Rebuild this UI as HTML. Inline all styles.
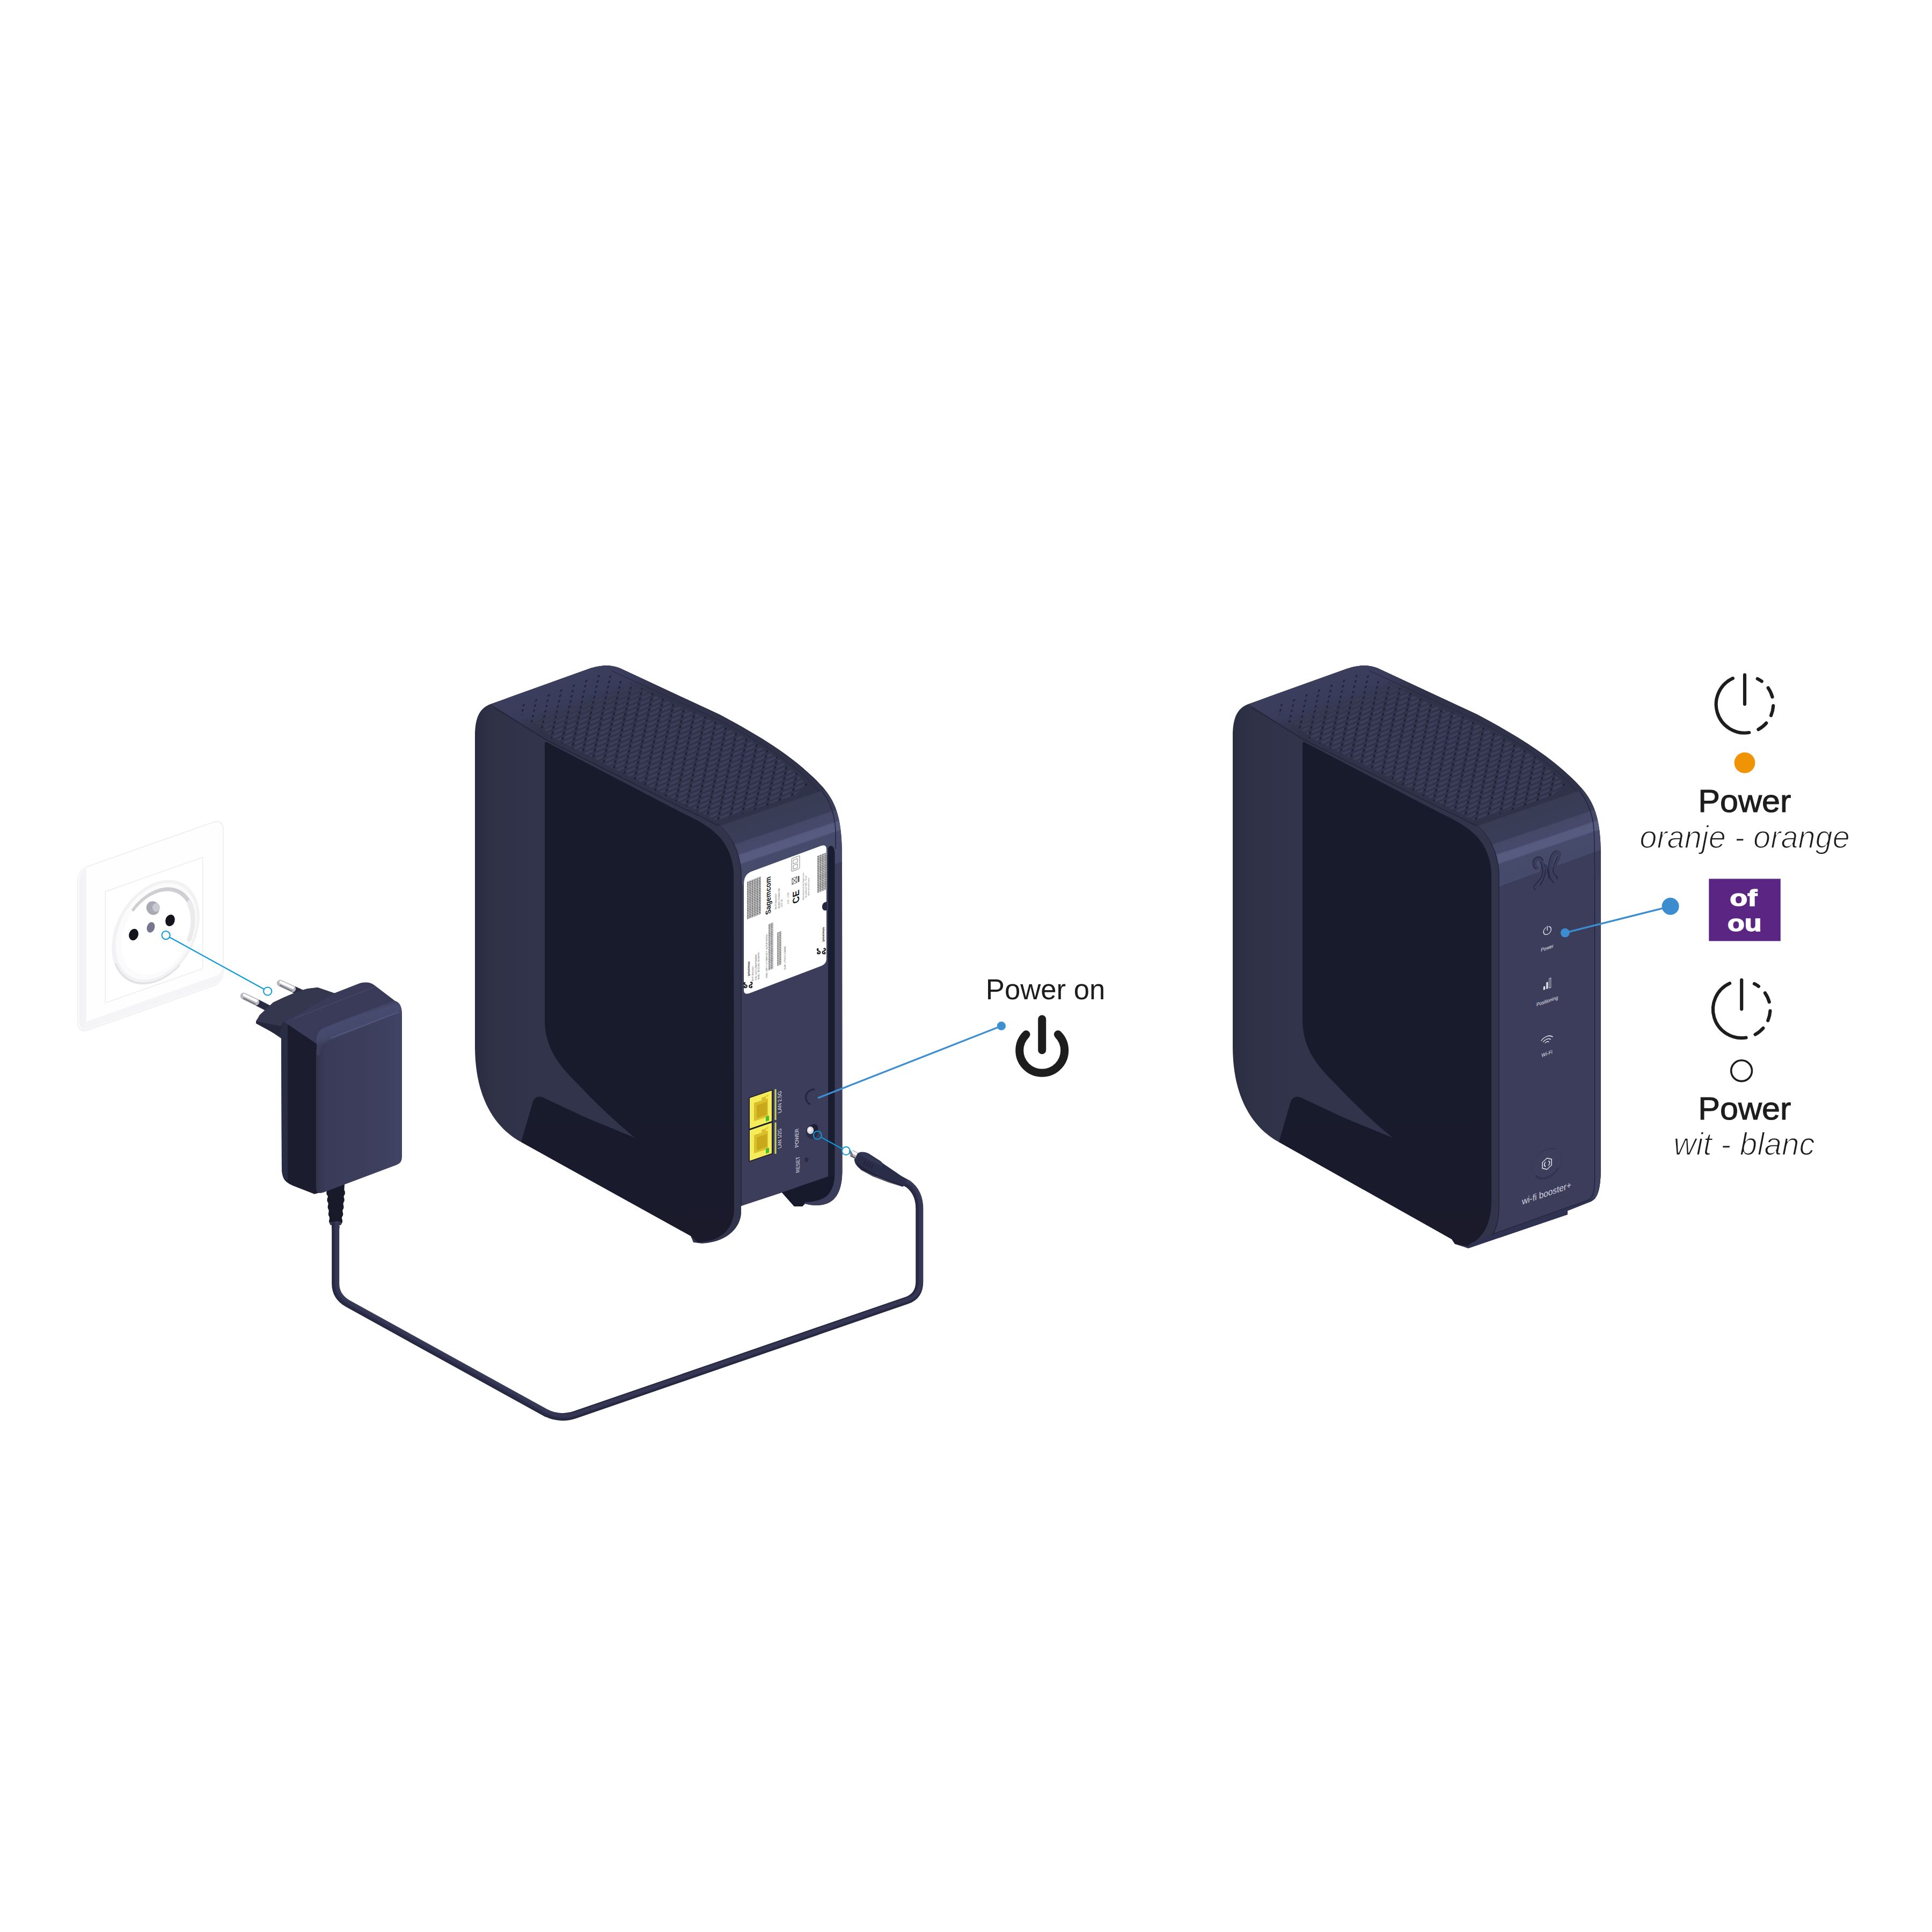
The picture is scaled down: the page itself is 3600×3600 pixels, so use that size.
<!DOCTYPE html>
<html lang="nl"><head><meta charset="utf-8"><title>Wi-Fi Booster+ - Power on</title>
<style>html,body{margin:0;padding:0;background:#fff}body{width:3600px;height:3600px;overflow:hidden}svg{display:block}</style>
</head><body>
<svg width="3600" height="3600" viewBox="0 0 3600 3600">
<rect width="3600" height="3600" fill="#ffffff"/>
<defs>
<pattern id="bump" width="100" height="100" patternUnits="userSpaceOnUse" patternTransform="matrix(0.233,-0.090,-0.0205,0.098,1000,1300)">
<rect width="100" height="100" fill="#2f3249"/>
<path d="M 14,20 L 88,20 L 88,62 C 70,82 40,84 14,78 Z" fill="#3a3e59"/>
</pattern>
<pattern id="dots" width="100" height="100" patternUnits="userSpaceOnUse" patternTransform="matrix(0.233,-0.090,-0.0205,0.098,1000,1300)">
<rect x="-6" y="32" width="13" height="36" rx="3" fill="#191b30"/>
<rect x="94" y="32" width="13" height="36" rx="3" fill="#191b30"/>
</pattern>
<linearGradient id="bands" gradientUnits="userSpaceOnUse" x1="1430" y1="1508" x2="1474.5" y2="1639">
<stop offset="0" stop-color="#363952"/>
<stop offset="0.02" stop-color="#393c55"/>
<stop offset="0.295" stop-color="#3a3d57"/>
<stop offset="0.315" stop-color="#454867"/>
<stop offset="0.445" stop-color="#464969"/>
<stop offset="0.465" stop-color="#555a7e"/>
<stop offset="0.57" stop-color="#565b80"/>
<stop offset="0.59" stop-color="#474b6b"/>
<stop offset="0.985" stop-color="#45496a"/>
<stop offset="1" stop-color="#3b3d5b"/>
</linearGradient>
<linearGradient id="topg" gradientUnits="userSpaceOnUse" x1="930" y1="1290" x2="1200" y2="1420">
<stop offset="0" stop-color="#3b3e5d"/>
<stop offset="0.45" stop-color="#33364f"/>
<stop offset="1" stop-color="#2f3249"/>
</linearGradient>
<linearGradient id="topfade" gradientUnits="userSpaceOnUse" x1="1020" y1="1275" x2="1049" y2="1358">
<stop offset="0" stop-color="#3b3e5d" stop-opacity="1"/>
<stop offset="0.5" stop-color="#383b59" stop-opacity="1"/>
<stop offset="0.75" stop-color="#35384f" stop-opacity="0.6"/>
<stop offset="1" stop-color="#33364f" stop-opacity="0"/>
</linearGradient>
<linearGradient id="sideg" gradientUnits="userSpaceOnUse" x1="885" y1="0" x2="1015" y2="0">
<stop offset="0" stop-color="#2b2e43"/>
<stop offset="0.25" stop-color="#2f3247"/>
<stop offset="1" stop-color="#31344b"/>
</linearGradient>
<linearGradient id="darkg" gradientUnits="userSpaceOnUse" x1="0" y1="1400" x2="0" y2="2300">
<stop offset="0" stop-color="#171b2b"/>
<stop offset="0.7" stop-color="#181b2c"/>
<stop offset="1" stop-color="#1a1a2b"/>
</linearGradient>
<linearGradient id="pin" gradientUnits="objectBoundingBox" x1="0.3" y1="0" x2="0.7" y2="1">
<stop offset="0" stop-color="#ffffff"/>
<stop offset="0.35" stop-color="#e8e8ec"/>
<stop offset="0.7" stop-color="#9a9aa2"/>
<stop offset="1" stop-color="#6d6d78"/>
</linearGradient>
<linearGradient id="adfront" gradientUnits="userSpaceOnUse" x1="590" y1="0" x2="750" y2="0">
<stop offset="0" stop-color="#33354f"/>
<stop offset="0.12" stop-color="#393b59"/>
<stop offset="0.6" stop-color="#3c3e5c"/>
<stop offset="1" stop-color="#404364"/>
</linearGradient>
<linearGradient id="adbevel" gradientUnits="userSpaceOnUse" x1="660" y1="1885" x2="672" y2="1925">
<stop offset="0" stop-color="#3b3d5b"/>
<stop offset="0.25" stop-color="#474b6f"/>
<stop offset="0.7" stop-color="#454a6d"/>
<stop offset="1" stop-color="#3c3e5c"/>
</linearGradient>
<clipPath id="sil1"><path d="M 885,1953 L 885,1372 C 885,1338 893,1320 914,1312 L 1098,1246 C 1115,1240 1137,1237 1155,1245 L 1340,1331 C 1400,1363 1465,1400 1515,1448 C 1550,1482 1568,1505 1569,1590 L 1569.5,2180 C 1569.5,2215 1560,2236 1540,2243 C 1530,2246.5 1515,2247.5 1500,2243 L 1495,2248 L 1480,2248 L 1472,2239 L 1457,2222 L 1381,2247 L 1381,2262 C 1378,2292 1350,2315 1308,2317 L 1292,2315 L 1287,2303 L 971,2128 C 925,2103 886,2050 885,1953 Z"/></clipPath>
<clipPath id="sil2"><path d="M 885,1953 L 885,1372 C 885,1338 893,1320 914,1312 L 1098,1246 C 1115,1240 1137,1237 1155,1245 L 1340,1331 C 1400,1363 1465,1400 1515,1448 C 1550,1482 1570,1505 1571,1590 L 1571,2170 C 1571,2214 1566,2233 1552,2239 L 1509,2256 L 1509,2263 L 1324,2326 L 1299,2318 L 1293,2309 L 971,2128 C 925,2103 886,2050 885,1953 Z"/></clipPath>
</defs>
<g id="socket">
<g transform="matrix(0.88,-0.31,0,1,145,1621)">
<rect x="0" y="0" width="308" height="305" rx="20" fill="#fefefe" stroke="#efeff2" stroke-width="2"/>
<path d="M 3,22 C 3,10 8,4 18,3 L 18,300 C 8,300 3,294 3,284 Z" fill="#f3f3f5"/>
<path d="M 20,288 L 290,288 C 300,288 305,284 306,276 L 306,285 C 305,297 298,303 288,303 L 20,303 C 12,303 8,300 6,296 Z" fill="#f5f5f7"/>
<rect x="58.3" y="58.4" width="206" height="207.5" fill="#ffffff" stroke="#ececef" stroke-width="1.6"/>
<circle cx="164.8" cy="167" r="93" fill="#f2f2f4"/>
<circle cx="166" cy="166" r="86" fill="#fbfbfc"/>
<path d="M 80,200 A 93 93 0 0 0 215,245" fill="none" stroke="#e2e2e6" stroke-width="3.5" stroke-linecap="round"/>
<circle cx="168" cy="168" r="76" fill="#ffffff"/>
<path d="M 118,110 A 76 76 0 0 1 236,134" fill="none" stroke="#cfcfd3" stroke-width="7" stroke-linecap="round"/>
<path d="M 236,134 A 76 76 0 0 1 236,202" fill="none" stroke="#ebebee" stroke-width="10" stroke-linecap="round"/>
</g>
<ellipse cx="249" cy="1741.5" rx="8.6" ry="11" transform="rotate(18 249 1741.5)" fill="#14141f"/>
<ellipse cx="317" cy="1715" rx="8.6" ry="11" transform="rotate(18 317 1715)" fill="#14141f"/>
<ellipse cx="281" cy="1728" rx="7.2" ry="10" transform="rotate(18 281 1728)" fill="#77758f"/>
<ellipse cx="285" cy="1692" rx="12" ry="13" transform="rotate(-30 285 1692)" fill="#a9a9b3"/>
<ellipse cx="291" cy="1691" rx="7" ry="8" fill="#c9c9d2"/>
</g>
<g id="adapter">
<line x1="547" y1="1843.5" x2="572" y2="1855" stroke="#2a2c44" stroke-width="12.5" stroke-linecap="butt"/>
<line x1="522" y1="1832" x2="545" y2="1842.5" stroke="#b9b9c0" stroke-width="12.5" stroke-linecap="round"/>
<line x1="522.919" y1="1830" x2="545.919" y2="1840.5" stroke="#ffffff" stroke-width="4.75" stroke-linecap="round"/>
<line x1="521.245" y1="1835.82" x2="544.245" y2="1847.32" stroke="#7b7b86" stroke-width="2.75" stroke-linecap="butt"/>
<path d="M 477,1903 L 484,1891 L 509,1868 C 540,1853 560,1845 575,1842 L 592,1840 L 624,1851 L 560,1900 L 530,1912 L 524,1935 Z" fill="#34364f"/>
<path d="M 477,1903 L 524,1912 L 523,1932 L 477,1907 Z" fill="#25273c"/>
<line x1="479" y1="1868" x2="508" y2="1883" stroke="#2a2c44" stroke-width="12.5" stroke-linecap="butt"/>
<line x1="454" y1="1856" x2="477" y2="1867" stroke="#b9b9c0" stroke-width="12.5" stroke-linecap="round"/>
<line x1="454.952" y1="1854.02" x2="477.952" y2="1865.02" stroke="#ffffff" stroke-width="4.75" stroke-linecap="round"/>
<line x1="453.183" y1="1859.79" x2="476.183" y2="1871.79" stroke="#7b7b86" stroke-width="2.75" stroke-linecap="butt"/>
<path d="M 486,1890 L 509,1868 C 540,1853 560,1845 575,1842 L 592,1840 L 624,1851 L 545,1893 L 524,1912 L 477,1903 Z" fill="#35374f"/>
<path d="M 609,2200 L 643,2190 L 640,2240 L 636,2280 L 615,2282 L 612,2250 Z" fill="#181a2a"/>
<rect x="608.35" y="2216" width="34.5" height="13" rx="5.5" fill="#181a2a"/>
<rect x="609.55" y="2229.2" width="32.1" height="13" rx="5.5" fill="#181a2a"/>
<rect x="610.75" y="2242.4" width="29.7" height="13" rx="5.5" fill="#181a2a"/>
<rect x="611.95" y="2255.6" width="27.3" height="13" rx="5.5" fill="#181a2a"/>
<rect x="613.15" y="2268.8" width="24.9" height="13" rx="5.5" fill="#181a2a"/>
<rect x="615" y="2277" width="21" height="6" rx="2" fill="#383b57"/>
<rect x="618" y="2282" width="14.5" height="9" rx="3" fill="#1a1c2e"/>
<path d="M 529,1904 C 524,1907 524,1912 524,1920 L 525,2180 C 526,2197 532,2203 545,2209 L 586,2225 L 600,2221 L 600,1950 L 545,1897 Z" fill="#1b1c2e"/>
<path d="M 529,1904 C 524,1907 524,1912 524,1920 L 525,2178 C 526,2190 529,2196 536,2201 L 536,1908 Z" fill="#2a2c43"/>
<path d="M 529,1904 L 545,1896 L 622,1851 L 668,1833 C 680,1829 690,1830 698,1836 L 740,1868 C 746,1873 748,1878 748,1886 L 720,1905 L 600,1950 L 590,1945 Z" fill="#393b59"/>
<path d="M 548,1898 L 700,1838" fill="none" stroke="#474a6c" stroke-width="1.5" opacity="0.8"/>
<path d="M 589,1962 C 589,1948 594,1942 604,1938 L 735,1884 C 744,1881 749,1884 749,1894 L 749,2154 C 749,2164 746,2168 738,2171 L 605,2221 C 594,2225 589,2224 589,2212 Z" fill="url(#adfront)"/>
<path d="M 590,1946 C 588,1930 592,1921 604,1915 L 728,1866 C 740,1862 748,1870 749,1886 L 749,1898 C 748,1890 744,1887 735,1890 L 612,1940 C 600,1945 596,1952 596,1966 L 590,1966 Z" fill="url(#adbevel)"/>
<path d="M 617,1934 L 742,1886" fill="none" stroke="#53587f" stroke-width="2.2" opacity="0.9"/>
</g>
<path d="M 625.2,2278 L 625.2,2392 Q 625.2,2416 648,2429 L 1016,2632 Q 1042,2646 1072,2636 L 1690,2423 Q 1713.3,2415 1713.3,2388 L 1713.3,2252 Q 1713.3,2222 1692,2206 L 1662,2190" fill="none" stroke="#25273e" stroke-width="14" stroke-linejoin="round"/>
<path d="M 625.2,2278 L 625.2,2392 Q 625.2,2416 648,2429 L 1016,2632 Q 1042,2646 1072,2636 L 1690,2423 Q 1713.3,2415 1713.3,2388 L 1713.3,2252 Q 1713.3,2222 1692,2206 L 1662,2190" fill="none" stroke="#3a3d5b" stroke-width="7" stroke-linejoin="round" transform="translate(2.6,-2.2)"/>
<path d="M 625.2,2278 L 625.2,2392 Q 625.2,2416 648,2429 L 1016,2632 Q 1042,2646 1072,2636 L 1690,2423 Q 1713.3,2415 1713.3,2388 L 1713.3,2252 Q 1713.3,2222 1692,2206 L 1662,2190" fill="none" stroke="#2f324e" stroke-width="9" stroke-linejoin="round" opacity="0.55"/>
<g id="router1">
<path d="M 885,1953 L 885,1372 C 885,1338 893,1320 914,1312 L 1098,1246 C 1115,1240 1137,1237 1155,1245 L 1340,1331 C 1400,1363 1465,1400 1515,1448 C 1550,1482 1568,1505 1569,1590 L 1569.5,2180 C 1569.5,2215 1560,2236 1540,2243 C 1530,2246.5 1515,2247.5 1500,2243 L 1495,2248 L 1480,2248 L 1472,2239 L 1457,2222 L 1381,2247 L 1381,2262 C 1378,2292 1350,2315 1308,2317 L 1292,2315 L 1287,2303 L 971,2128 C 925,2103 886,2050 885,1953 Z" fill="url(#sideg)"/>
<g clip-path="url(#sil1)">
<path d="M 916,1313 L 1127,1225 L 1620,1225 L 1620,1442 L 1531,1473 L 1338,1540 L 1276,1506 L 1015,1375 Z" fill="#2f3249"/>
<path d="M 972,1326 L 1132,1257 L 1345,1352 C 1410,1385 1465,1418 1503,1462 L 1480,1482 L 1338,1530 L 1270,1496 L 1030,1374 Z" fill="url(#bump)"/>
<path d="M 916,1313 L 1127,1225 L 1620,1225 L 1620,1442 L 1531,1473 L 1338,1540 L 1276,1506 L 1015,1375 Z" fill="url(#topfade)"/>
<path d="M 956,1319 L 1128,1251 L 1345,1349 C 1410,1382 1465,1415 1506,1462 L 1480,1484 L 1338,1532 L 1270,1498 L 1018,1371 Z" fill="url(#dots)"/>
<path d="M 920,1318 L 1015,1377 L 1276,1508 C 1300,1519 1320,1528 1336,1538" fill="none" stroke="#23253b" stroke-width="1.6"/>
<path d="M 1140,1250 L 1340,1342 C 1400,1373 1460,1408 1505,1452 C 1525,1472 1540,1490 1548,1505" fill="none" stroke="#262840" stroke-width="1.5" opacity="0.7"/>
<path d="M 1381,2400 L 1381,1625 C 1378,1585 1362,1558 1338,1540 L 1531,1473 L 1620,1442 L 1620,2400 Z" fill="url(#bands)"/>
</g>
<path d="M 1017,1382 L 1270,1514 C 1320,1538 1362,1560 1367,1625 L 1368,2255 C 1366,2290 1345,2313 1300,2315 L 1287,2303 L 971,2128 L 992,2056 C 995,2045 1002,2041 1012,2045 L 1093,2083 L 1183,2120 C 1140,2085 1100,2045 1067,2010 C 1035,1978 1015,1945 1015,1900 L 1015,1385 Z" fill="url(#darkg)"/>
<path d="M 1457,2222 L 1543,2192 L 1555,2189 C 1555,2205 1551,2218 1542,2227 C 1535,2234 1522,2239 1500,2240.5 L 1495,2248 L 1480,2248 L 1472,2239 Z" fill="#171a2b"/>
<path d="M 1381,1650 L 1543,1592 L 1543,2192 L 1381,2247 Z" fill="#3b3d5b"/>
<path d="M 1543,1580 C 1548,1572 1555,1576 1555.5,1590 L 1555.5,2190 L 1543,2194 Z" fill="#1a1c30"/>
<path d="M 1531,1473 C 1546,1492 1555,1515 1557,1546 L 1557,1582" fill="none" stroke="#23253b" stroke-width="1.5"/>
<path d="M 1381,1625 L 1381,2247" stroke="#23253b" stroke-width="1.5" fill="none"/>
<path d="M 1381,1625 C 1378,1585 1362,1555 1336,1535" stroke="#23253b" stroke-width="1.5" fill="none"/>
<g id="label">
<path d="M 1386,1648 C 1386,1636 1390,1628 1400,1624 L 1530,1576 C 1537,1574 1540,1576 1540,1583 L 1540,1786 C 1540,1793 1537,1797 1530,1800 L 1396,1851 C 1389,1853 1386,1851 1386,1845 Z" fill="#ffffff"/>
<path d="M 1541,1680 C 1533,1681 1530,1688 1533,1694 C 1535,1697 1538,1697 1541,1696 Z" fill="#262840"/>
<g transform="matrix(0,-1,1,-0.39,1392,1713)">
<rect x="0" y="0" width="70" height="26" fill="#6f6f6f"/>
<rect x="1.2" y="0" width="1.1" height="26" fill="#ffffff" opacity="0.75"/>
<rect x="4.4" y="0" width="1.1" height="26" fill="#ffffff" opacity="0.75"/>
<rect x="7.6" y="0" width="1.1" height="26" fill="#ffffff" opacity="0.75"/>
<rect x="10.8" y="0" width="1.1" height="26" fill="#ffffff" opacity="0.75"/>
<rect x="14" y="0" width="1.1" height="26" fill="#ffffff" opacity="0.75"/>
<rect x="17.2" y="0" width="1.1" height="26" fill="#ffffff" opacity="0.75"/>
<rect x="20.4" y="0" width="1.1" height="26" fill="#ffffff" opacity="0.75"/>
<rect x="23.6" y="0" width="1.1" height="26" fill="#ffffff" opacity="0.75"/>
<rect x="26.8" y="0" width="1.1" height="26" fill="#ffffff" opacity="0.75"/>
<rect x="30" y="0" width="1.1" height="26" fill="#ffffff" opacity="0.75"/>
<rect x="33.2" y="0" width="1.1" height="26" fill="#ffffff" opacity="0.75"/>
<rect x="36.4" y="0" width="1.1" height="26" fill="#ffffff" opacity="0.75"/>
<rect x="39.6" y="0" width="1.1" height="26" fill="#ffffff" opacity="0.75"/>
<rect x="42.8" y="0" width="1.1" height="26" fill="#ffffff" opacity="0.75"/>
<rect x="46" y="0" width="1.1" height="26" fill="#ffffff" opacity="0.75"/>
<rect x="49.2" y="0" width="1.1" height="26" fill="#ffffff" opacity="0.75"/>
<rect x="52.4" y="0" width="1.1" height="26" fill="#ffffff" opacity="0.75"/>
<rect x="55.6" y="0" width="1.1" height="26" fill="#ffffff" opacity="0.75"/>
<rect x="58.8" y="0" width="1.1" height="26" fill="#ffffff" opacity="0.75"/>
<rect x="62" y="0" width="1.1" height="26" fill="#ffffff" opacity="0.75"/>
<rect x="65.2" y="0" width="1.1" height="26" fill="#ffffff" opacity="0.75"/>
<rect x="68.4" y="0" width="1.1" height="26" fill="#ffffff" opacity="0.75"/>
<rect x="0" y="3" width="70" height="0.9" fill="#ffffff" opacity="0.7"/>
<rect x="0" y="7.5" width="70" height="0.9" fill="#ffffff" opacity="0.7"/>
<rect x="0" y="12" width="70" height="0.9" fill="#ffffff" opacity="0.7"/>
<rect x="0" y="16.5" width="70" height="0.9" fill="#ffffff" opacity="0.7"/>
<rect x="0" y="21" width="70" height="0.9" fill="#ffffff" opacity="0.7"/>
<rect x="0" y="25.5" width="70" height="0.9" fill="#ffffff" opacity="0.7"/>
</g>
<g transform="matrix(0,-1,1,-0.39,1523,1664)">
<rect x="0" y="0" width="69" height="17" fill="#6f6f6f"/>
<rect x="1.2" y="0" width="1.1" height="17" fill="#ffffff" opacity="0.75"/>
<rect x="4.4" y="0" width="1.1" height="17" fill="#ffffff" opacity="0.75"/>
<rect x="7.6" y="0" width="1.1" height="17" fill="#ffffff" opacity="0.75"/>
<rect x="10.8" y="0" width="1.1" height="17" fill="#ffffff" opacity="0.75"/>
<rect x="14" y="0" width="1.1" height="17" fill="#ffffff" opacity="0.75"/>
<rect x="17.2" y="0" width="1.1" height="17" fill="#ffffff" opacity="0.75"/>
<rect x="20.4" y="0" width="1.1" height="17" fill="#ffffff" opacity="0.75"/>
<rect x="23.6" y="0" width="1.1" height="17" fill="#ffffff" opacity="0.75"/>
<rect x="26.8" y="0" width="1.1" height="17" fill="#ffffff" opacity="0.75"/>
<rect x="30" y="0" width="1.1" height="17" fill="#ffffff" opacity="0.75"/>
<rect x="33.2" y="0" width="1.1" height="17" fill="#ffffff" opacity="0.75"/>
<rect x="36.4" y="0" width="1.1" height="17" fill="#ffffff" opacity="0.75"/>
<rect x="39.6" y="0" width="1.1" height="17" fill="#ffffff" opacity="0.75"/>
<rect x="42.8" y="0" width="1.1" height="17" fill="#ffffff" opacity="0.75"/>
<rect x="46" y="0" width="1.1" height="17" fill="#ffffff" opacity="0.75"/>
<rect x="49.2" y="0" width="1.1" height="17" fill="#ffffff" opacity="0.75"/>
<rect x="52.4" y="0" width="1.1" height="17" fill="#ffffff" opacity="0.75"/>
<rect x="55.6" y="0" width="1.1" height="17" fill="#ffffff" opacity="0.75"/>
<rect x="58.8" y="0" width="1.1" height="17" fill="#ffffff" opacity="0.75"/>
<rect x="62" y="0" width="1.1" height="17" fill="#ffffff" opacity="0.75"/>
<rect x="65.2" y="0" width="1.1" height="17" fill="#ffffff" opacity="0.75"/>
<rect x="68.4" y="0" width="1.1" height="17" fill="#ffffff" opacity="0.75"/>
<rect x="0" y="3" width="69" height="0.9" fill="#ffffff" opacity="0.7"/>
<rect x="0" y="7.5" width="69" height="0.9" fill="#ffffff" opacity="0.7"/>
<rect x="0" y="12" width="69" height="0.9" fill="#ffffff" opacity="0.7"/>
<rect x="0" y="16.5" width="69" height="0.9" fill="#ffffff" opacity="0.7"/>
</g>
<g transform="matrix(0,-1,1,-0.39,1432,1808)">
<rect x="0" y="0" width="86" height="9" fill="#808080"/>
<rect x="1.2" y="0" width="1.1" height="9" fill="#ffffff" opacity="0.75"/>
<rect x="4.4" y="0" width="1.1" height="9" fill="#ffffff" opacity="0.75"/>
<rect x="7.6" y="0" width="1.1" height="9" fill="#ffffff" opacity="0.75"/>
<rect x="10.8" y="0" width="1.1" height="9" fill="#ffffff" opacity="0.75"/>
<rect x="14" y="0" width="1.1" height="9" fill="#ffffff" opacity="0.75"/>
<rect x="17.2" y="0" width="1.1" height="9" fill="#ffffff" opacity="0.75"/>
<rect x="20.4" y="0" width="1.1" height="9" fill="#ffffff" opacity="0.75"/>
<rect x="23.6" y="0" width="1.1" height="9" fill="#ffffff" opacity="0.75"/>
<rect x="26.8" y="0" width="1.1" height="9" fill="#ffffff" opacity="0.75"/>
<rect x="30" y="0" width="1.1" height="9" fill="#ffffff" opacity="0.75"/>
<rect x="33.2" y="0" width="1.1" height="9" fill="#ffffff" opacity="0.75"/>
<rect x="36.4" y="0" width="1.1" height="9" fill="#ffffff" opacity="0.75"/>
<rect x="39.6" y="0" width="1.1" height="9" fill="#ffffff" opacity="0.75"/>
<rect x="42.8" y="0" width="1.1" height="9" fill="#ffffff" opacity="0.75"/>
<rect x="46" y="0" width="1.1" height="9" fill="#ffffff" opacity="0.75"/>
<rect x="49.2" y="0" width="1.1" height="9" fill="#ffffff" opacity="0.75"/>
<rect x="52.4" y="0" width="1.1" height="9" fill="#ffffff" opacity="0.75"/>
<rect x="55.6" y="0" width="1.1" height="9" fill="#ffffff" opacity="0.75"/>
<rect x="58.8" y="0" width="1.1" height="9" fill="#ffffff" opacity="0.75"/>
<rect x="62" y="0" width="1.1" height="9" fill="#ffffff" opacity="0.75"/>
<rect x="65.2" y="0" width="1.1" height="9" fill="#ffffff" opacity="0.75"/>
<rect x="68.4" y="0" width="1.1" height="9" fill="#ffffff" opacity="0.75"/>
<rect x="71.6" y="0" width="1.1" height="9" fill="#ffffff" opacity="0.75"/>
<rect x="74.8" y="0" width="1.1" height="9" fill="#ffffff" opacity="0.75"/>
<rect x="78" y="0" width="1.1" height="9" fill="#ffffff" opacity="0.75"/>
<rect x="81.2" y="0" width="1.1" height="9" fill="#ffffff" opacity="0.75"/>
<rect x="84.4" y="0" width="1.1" height="9" fill="#ffffff" opacity="0.75"/>
<rect x="0" y="3" width="86" height="0.9" fill="#ffffff" opacity="0.7"/>
<rect x="0" y="7.5" width="86" height="0.9" fill="#ffffff" opacity="0.7"/>
</g>
<g transform="matrix(0,-1,1,-0.39,1448,1800)">
<rect x="0" y="0" width="62" height="8" fill="#808080"/>
<rect x="1.2" y="0" width="1.1" height="8" fill="#ffffff" opacity="0.75"/>
<rect x="4.4" y="0" width="1.1" height="8" fill="#ffffff" opacity="0.75"/>
<rect x="7.6" y="0" width="1.1" height="8" fill="#ffffff" opacity="0.75"/>
<rect x="10.8" y="0" width="1.1" height="8" fill="#ffffff" opacity="0.75"/>
<rect x="14" y="0" width="1.1" height="8" fill="#ffffff" opacity="0.75"/>
<rect x="17.2" y="0" width="1.1" height="8" fill="#ffffff" opacity="0.75"/>
<rect x="20.4" y="0" width="1.1" height="8" fill="#ffffff" opacity="0.75"/>
<rect x="23.6" y="0" width="1.1" height="8" fill="#ffffff" opacity="0.75"/>
<rect x="26.8" y="0" width="1.1" height="8" fill="#ffffff" opacity="0.75"/>
<rect x="30" y="0" width="1.1" height="8" fill="#ffffff" opacity="0.75"/>
<rect x="33.2" y="0" width="1.1" height="8" fill="#ffffff" opacity="0.75"/>
<rect x="36.4" y="0" width="1.1" height="8" fill="#ffffff" opacity="0.75"/>
<rect x="39.6" y="0" width="1.1" height="8" fill="#ffffff" opacity="0.75"/>
<rect x="42.8" y="0" width="1.1" height="8" fill="#ffffff" opacity="0.75"/>
<rect x="46" y="0" width="1.1" height="8" fill="#ffffff" opacity="0.75"/>
<rect x="49.2" y="0" width="1.1" height="8" fill="#ffffff" opacity="0.75"/>
<rect x="52.4" y="0" width="1.1" height="8" fill="#ffffff" opacity="0.75"/>
<rect x="55.6" y="0" width="1.1" height="8" fill="#ffffff" opacity="0.75"/>
<rect x="58.8" y="0" width="1.1" height="8" fill="#ffffff" opacity="0.75"/>
<rect x="0" y="3" width="62" height="0.9" fill="#ffffff" opacity="0.7"/>
<rect x="0" y="7.5" width="62" height="0.9" fill="#ffffff" opacity="0.7"/>
</g>
<text transform="matrix(0,-1,1,-0.39,1435.5,1702)" font-family="'Liberation Sans',sans-serif" font-size="13.5" font-weight="bold" fill="#1a1a1a" textLength="70" lengthAdjust="spacingAndGlyphs">Sagemcom</text>
<text transform="matrix(0,-1,1,-0.39,1447,1694)" font-family="'Liberation Sans',sans-serif" font-size="4.6" fill="#666">Wi-Fi Booster+</text>
<text transform="matrix(0,-1,1,-0.39,1452.5,1692)" font-family="'Liberation Sans',sans-serif" font-size="4.6" fill="#666">Model: F5685LGB</text>
<text transform="matrix(0,-1,1,-0.39,1458,1690)" font-family="'Liberation Sans',sans-serif" font-size="4.6" fill="#666">12V 2A</text>
<text transform="matrix(0,-1,1,-0.39,1470,1684)" font-family="'Liberation Sans',sans-serif" font-size="4.6" fill="#777">12V - 2.0A</text>
<text transform="matrix(0,-1,1,-0.39,1489,1681)" font-family="'Liberation Sans',sans-serif" font-size="17" font-weight="bold" fill="#1a1a1a" textLength="24" lengthAdjust="spacingAndGlyphs">CE</text>
<text transform="matrix(0,-1,1,-0.39,1498,1676)" font-family="'Liberation Sans',sans-serif" font-size="4" fill="#666">Manufactured by Sagemcom</text>
<text transform="matrix(0,-1,1,-0.39,1503,1672)" font-family="'Liberation Sans',sans-serif" font-size="4" fill="#666">Broadband SAS - Rueil</text>
<text transform="matrix(0,-1,1,-0.39,1508,1668)" font-family="'Liberation Sans',sans-serif" font-size="4" fill="#666">Malmaison France</text>
<g transform="matrix(0,-1,1,-0.39,1475,1624)"><rect x="0" y="0" width="24" height="15" rx="2" fill="none" stroke="#777" stroke-width="0.9"/><rect x="3" y="3" width="7" height="8" fill="none" stroke="#777" stroke-width="0.8"/><rect x="13" y="3" width="7" height="8" fill="none" stroke="#777" stroke-width="0.8"/></g>
<g transform="matrix(0,-1,1,-0.39,1476,1648)"><rect x="0" y="0" width="11" height="9" fill="none" stroke="#555" stroke-width="1"/><path d="M0,0 L11,9 M11,0 L0,9" stroke="#555" stroke-width="0.9"/><rect x="0" y="11" width="11" height="2.4" fill="#444"/></g>
<text transform="matrix(0,-1,1,-0.39,1397,1818)" font-family="'Liberation Sans',sans-serif" font-size="6" font-weight="bold" fill="#222">proximus</text>
<text transform="matrix(0,-1,1,-0.39,1404,1828)" font-family="'Liberation Sans',sans-serif" font-size="4.4" fill="#555">Wi-Fi Booster+</text>
<text transform="matrix(0,-1,1,-0.39,1409.5,1826)" font-family="'Liberation Sans',sans-serif" font-size="4.4" fill="#555">S/N: LK22130DP460048</text>
<text transform="matrix(0,-1,1,-0.39,1415,1824)" font-family="'Liberation Sans',sans-serif" font-size="4.4" fill="#555">MAC: 30:93:BC:7A:60:F0</text>
<text transform="matrix(0,-1,1,-0.39,1430,1822)" font-family="'Liberation Sans',sans-serif" font-size="4.4" fill="#555">SSID: WiFi-2.4-7A60  KEY: wp7fuPxKk7ps</text>
<text transform="matrix(0,-1,1,-0.39,1464,1806)" font-family="'Liberation Sans',sans-serif" font-size="4.4" fill="#555">GUA: 1754171130068</text>
<text transform="matrix(0,-1,1,-0.39,1536,1754)" font-family="'Liberation Sans',sans-serif" font-size="6" font-weight="bold" fill="#222">proximus</text>
<g transform="translate(1393.5,1836) scale(0.85)" fill="none" stroke="#111" stroke-width="2.2" stroke-linecap="round">
<path d="M -6,-5 C -9,-8 -10,-2 -5,-1 C -1,0 -1,4 -5,5 C -9,6 -9,1 -6,2"/>
<path d="M 6,-6 C 10,-9 11,-2 6,-1 C 2,0 2,4 6,5 C 10,6 10,1 7,2"/>
</g>
<g transform="translate(1530,1773) scale(0.85)" fill="none" stroke="#111" stroke-width="2.2" stroke-linecap="round">
<path d="M -6,-5 C -9,-8 -10,-2 -5,-1 C -1,0 -1,4 -5,5 C -9,6 -9,1 -6,2"/>
<path d="M 6,-6 C 10,-9 11,-2 6,-1 C 2,0 2,4 6,5 C 10,6 10,1 7,2"/>
</g>
</g>
<g transform="matrix(1,-0.34,0,1,1397,2046)">
<rect x="-1.5" y="-1.5" width="44" height="60" fill="#15172a"/>
<rect x="0" y="0" width="41" height="57" fill="#f5ec5a"/>
<path d="M 8,12 L 22,12 L 22,7 L 30,7 L 30,12 L 34,12 L 34,46 L 8,46 Z" fill="#d9bf2a"/>
<path d="M 13,18 L 32,18 L 32,42 L 13,42 Z" fill="#c9a81c"/>
<rect x="30" y="45" width="6" height="9" fill="#3fbf2f"/>
<rect x="30" y="5" width="5" height="4" fill="#e6d23a"/>
</g>
<g transform="matrix(1,-0.34,0,1,1397,2106)">
<rect x="-1.5" y="-1.5" width="44" height="60" fill="#15172a"/>
<rect x="0" y="0" width="41" height="57" fill="#f5ec5a"/>
<path d="M 8,12 L 22,12 L 22,7 L 30,7 L 30,12 L 34,12 L 34,46 L 8,46 Z" fill="#d9bf2a"/>
<path d="M 13,18 L 32,18 L 32,42 L 13,42 Z" fill="#c9a81c"/>
<rect x="30" y="45" width="6" height="9" fill="#3fbf2f"/>
<rect x="30" y="5" width="5" height="4" fill="#e6d23a"/>
</g>
<path d="M 1445,2029.5 L 1445,2087" stroke="#c9cf5a" stroke-width="3.2" fill="none"/>
<path d="M 1445,2091.5 L 1445,2150" stroke="#c9cf5a" stroke-width="3.2" fill="none"/>
<text transform="matrix(0,-1,1,-0.34,1456,2073)" font-family="'Liberation Sans',sans-serif" font-size="9.5" fill="#dfe0ea" textLength="41" lengthAdjust="spacingAndGlyphs">LAN 2.5G</text>
<text transform="matrix(0,-1,1,-0.34,1456,2139)" font-family="'Liberation Sans',sans-serif" font-size="9.5" fill="#dfe0ea" textLength="37" lengthAdjust="spacingAndGlyphs">LAN 1/2G</text>
<text transform="matrix(0,-1,1,-0.34,1488,2137)" font-family="'Liberation Sans',sans-serif" font-size="9.5" fill="#dfe0ea" textLength="35" lengthAdjust="spacingAndGlyphs">POWER</text>
<text transform="matrix(0,-1,1,-0.34,1490,2184)" font-family="'Liberation Sans',sans-serif" font-size="9.5" fill="#dfe0ea" textLength="30" lengthAdjust="spacingAndGlyphs">RESET</text>
<ellipse cx="1512" cy="2043" rx="11.5" ry="13.5" fill="#3a3c59"/>
<path d="M 1517,2030 C 1506,2030 1500,2040 1502,2048 C 1503,2053 1506,2056 1509,2057" fill="none" stroke="#26283f" stroke-width="3.4" stroke-linecap="round"/>
<ellipse cx="1513" cy="2109" rx="11.5" ry="13" fill="#2b2d46"/>
<ellipse cx="1517" cy="2103" rx="7.5" ry="8.5" fill="#1c1e33"/>
<ellipse cx="1510" cy="2106" rx="6.2" ry="7" fill="#d9d9de"/>
<ellipse cx="1509" cy="2105" rx="3" ry="3.6" fill="#f6f6f8"/>
<ellipse cx="1503" cy="2161" rx="3.6" ry="4.6" fill="#2a2c44"/>
</g>
<g id="dcplug">
<path d="M 1638,2163 L 1672,2186 L 1690,2199 L 1683,2211 L 1661,2203 L 1630,2190 Z" fill="#2a2d48"/>
<path d="M 1596,2151 C 1600,2146 1608,2145 1618,2149 L 1640,2163 C 1648,2169 1648,2176 1644,2184 C 1641,2190 1636,2193 1630,2191 L 1606,2180 C 1596,2174 1591,2166 1592,2158 Z" fill="#2b2e49"/>
<path d="M 1600,2150 C 1604,2147 1610,2147 1618,2151 L 1640,2165 C 1644,2168 1645,2171 1645,2174 L 1616,2160 Z" fill="#363957" opacity="0.8"/>
<path d="M 1594,2166 L 1630,2188 L 1660,2200 L 1683,2209 L 1682,2211.5 L 1656,2203.5 L 1626,2192 L 1604,2180 Z" fill="#1e2036" opacity="0.8"/>
<line x1="1586" y1="2148.5" x2="1596" y2="2153.5" stroke="#b5b5bd" stroke-width="13" stroke-linecap="butt"/>
<line x1="1586.5" y1="2146" x2="1596.5" y2="2151" stroke="#f6f6f8" stroke-width="5"/>
<line x1="1585" y1="2153.5" x2="1595" y2="2158.5" stroke="#55555f" stroke-width="2.5"/>
<ellipse cx="1585.5" cy="2148.5" rx="2.4" ry="6.4" transform="rotate(-27 1585.5 2148.5)" fill="#7d7d88"/>
<line x1="1612.5" y1="2162" x2="1609" y2="2171" stroke="#1b1d33" stroke-width="1.5" opacity="0.8"/>
<line x1="1617.1" y1="2164.6" x2="1613.6" y2="2173.6" stroke="#1b1d33" stroke-width="1.5" opacity="0.8"/>
<line x1="1621.7" y1="2167.2" x2="1618.2" y2="2176.2" stroke="#1b1d33" stroke-width="1.5" opacity="0.8"/>
<line x1="1626.3" y1="2169.8" x2="1622.8" y2="2178.8" stroke="#1b1d33" stroke-width="1.5" opacity="0.8"/>
</g>
<line x1="315.757" y1="1746.27" x2="492.043" y2="1843.33" stroke="#0a9bd8" stroke-width="2.2"/>
<circle cx="309.1" cy="1742.6" r="7.6" fill="#ffffff" fill-opacity="0.0" stroke="#0a9bd8" stroke-width="2"/>
<circle cx="498.7" cy="1847" r="7.6" fill="#ffffff" fill-opacity="0.0" stroke="#0a9bd8" stroke-width="2"/>
<line x1="1529.77" y1="2118.91" x2="1569.93" y2="2140.99" stroke="#0a9bd8" stroke-width="2.2"/>
<circle cx="1523.2" cy="2115.3" r="7.5" fill="#ffffff" fill-opacity="0.0" stroke="#0a9bd8" stroke-width="2"/>
<circle cx="1576.5" cy="2144.6" r="7.5" fill="#ffffff" fill-opacity="0.0" stroke="#0a9bd8" stroke-width="2"/>
<line x1="1524" y1="2046" x2="1866" y2="1911.7" stroke="#3d8fd1" stroke-width="3.3"/>
<circle cx="1865.9" cy="1911.7" r="8.1" fill="#3d8fd1"/>
<text x="1836.8" y="1861.7" font-family="'Liberation Sans',sans-serif" font-size="53" fill="#1d1d1d" textLength="222.5" lengthAdjust="spacingAndGlyphs">Power on</text>
<path d="M 1912,1927.6 A 42 42 0 1 0 1971.4,1927.6" fill="none" stroke="#1d1d1d" stroke-width="15" stroke-linecap="round"/>
<line x1="1941.7" y1="1899" x2="1941.7" y2="1956.8" stroke="#1d1d1d" stroke-width="15" stroke-linecap="round"/>
<g id="router2" transform="translate(1412,0)">
<path d="M 885,1953 L 885,1372 C 885,1338 893,1320 914,1312 L 1098,1246 C 1115,1240 1137,1237 1155,1245 L 1340,1331 C 1400,1363 1465,1400 1515,1448 C 1550,1482 1570,1505 1571,1590 L 1571,2170 C 1571,2214 1566,2233 1552,2239 L 1509,2256 L 1509,2263 L 1324,2326 L 1299,2318 L 1293,2309 L 971,2128 C 925,2103 886,2050 885,1953 Z" fill="url(#sideg)"/>
<g clip-path="url(#sil2)">
<path d="M 916,1313 L 1127,1225 L 1620,1225 L 1620,1442 L 1531,1473 L 1338,1540 L 1276,1506 L 1015,1375 Z" fill="#2f3249"/>
<path d="M 972,1326 L 1132,1257 L 1345,1352 C 1410,1385 1465,1418 1503,1462 L 1480,1482 L 1338,1530 L 1270,1496 L 1030,1374 Z" fill="url(#bump)"/>
<path d="M 916,1313 L 1127,1225 L 1620,1225 L 1620,1442 L 1531,1473 L 1338,1540 L 1276,1506 L 1015,1375 Z" fill="url(#topfade)"/>
<path d="M 956,1319 L 1128,1251 L 1345,1349 C 1410,1382 1465,1415 1506,1462 L 1480,1484 L 1338,1532 L 1270,1498 L 1018,1371 Z" fill="url(#dots)"/>
<path d="M 920,1318 L 1015,1377 L 1276,1508 C 1300,1519 1320,1528 1336,1538" fill="none" stroke="#23253b" stroke-width="1.6"/>
<path d="M 1140,1250 L 1340,1342 C 1400,1373 1460,1408 1505,1452 C 1525,1472 1540,1490 1548,1505" fill="none" stroke="#262840" stroke-width="1.5" opacity="0.7"/>
<path d="M 1381,2400 L 1381,1625 C 1378,1585 1362,1558 1338,1540 L 1531,1473 L 1620,1442 L 1620,2400 Z" fill="url(#bands)"/>
</g>
<path d="M 1017,1382 L 1270,1514 C 1320,1538 1362,1560 1367,1625 L 1367,2240 C 1366,2285 1350,2308 1322,2322 L 1299,2318 L 1293,2309 L 971,2128 L 992,2056 C 995,2045 1002,2041 1012,2045 L 1093,2083 L 1183,2120 C 1140,2085 1100,2045 1067,2010 C 1035,1978 1015,1945 1015,1900 L 1015,1385 Z" fill="url(#darkg)"/>
<g clip-path="url(#sil2)">
<path d="M 1381,1652 L 1575,1582 L 1575,2226 L 1372,2300 C 1378,2285 1381,2270 1381,2250 Z" fill="#3b3d5b"/>
<path d="M 1560,1640 L 1575,1634 L 1575,2240 L 1560,2240 Z" fill="#3f4262" opacity="0.6"/>
<path d="M 1531,1473 C 1546,1492 1556,1515 1558,1546 C 1559.5,1570 1559.5,1600 1559.5,1640 L 1559.5,2200 C 1559,2222 1556,2231 1548,2236 L 1372,2299" fill="none" stroke="#23253b" stroke-width="1.5"/>
<path d="M 1372,2300 L 1550,2236 L 1575,2225 L 1575,2340 L 1300,2340 L 1330,2316 Z" fill="#2f3251"/>
</g>
<path d="M 1381,1625 L 1381,2250 C 1381,2272 1376,2290 1368,2302" stroke="#23253b" stroke-width="1.5" fill="none"/>
<path d="M 1381,1625 C 1378,1585 1362,1555 1336,1535" stroke="#23253b" stroke-width="1.5" fill="none"/>
<g fill="none" stroke="#3b3e5b" stroke-width="6.5" stroke-linecap="round">
<path d="M 1452,1617 C 1446,1613 1446,1604 1452,1601 C 1459,1598 1462,1604 1462.5,1613 C 1463,1625 1459,1633 1452,1641 C 1447,1647 1446,1652 1450,1656"/>
<path d="M 1483,1642 C 1478,1635 1476,1625 1478,1611 C 1480,1599 1484,1590 1490,1588 C 1495,1587 1495,1593 1491,1600 C 1487,1608 1484,1616 1486,1624"/>
</g>
<g fill="none" stroke="#1f213a" stroke-width="1.5" stroke-linecap="round" opacity="0.85">
<path d="M 1450,1619.5 C 1443,1615 1442,1603 1450,1598 C 1456,1595 1461,1597 1463,1603"/>
<path d="M 1458,1606 C 1462,1612 1463,1622 1462,1630 C 1460,1637 1455,1641 1451,1646 C 1446,1651 1444,1654 1449,1658"/>
<path d="M 1466,1610 C 1469,1618 1468,1630 1463,1640 C 1461,1644 1459,1647 1458,1649"/>
<path d="M 1483.4,1645.5 C 1476,1638 1472,1625 1474,1610 C 1476,1597 1481,1587 1488,1584.6"/>
<path d="M 1490,1596 C 1486,1604 1482,1614 1482,1622 C 1482,1628 1485,1632 1490,1634 L 1489,1638"/>
<path d="M 1470,1612 C 1472,1622 1472,1630 1475,1638"/>
</g>
<g transform="matrix(1,-0.345,0,1,1471.2,1734.1)" fill="none" stroke="#d8d8e2" stroke-width="1.5" stroke-linecap="round">
<path d="M -2.8,-6.6 A 7.1 7.1 0 1 0 2.8,-6.6" /><path d="M 3.4,-6.3 A 7.1 7.1 0 0 1 6.2,3.4" stroke-dasharray="2.4 2.2" opacity="0"/>
<line x1="0" y1="-8.4" x2="0" y2="-0.5"/>
</g>
<text transform="matrix(1,-0.345,0,1,1471,1769.5)" font-family="'Liberation Sans',sans-serif" fill="#e4e4ee" font-size="9.6" text-anchor="middle" textLength="23.5" lengthAdjust="spacingAndGlyphs">Power</text>
<g transform="matrix(1,-0.345,0,1,1471,1842.5)" fill="#e2e2ec">
<rect x="-7.2" y="-6.6" width="3.4" height="6.6"/><rect x="-1.8" y="-12.5" width="3.4" height="12.5"/>
<rect x="3.8" y="-18" width="3" height="18" fill="none" stroke="#e2e2ec" stroke-width="0.9"/>
</g>
<text transform="matrix(1,-0.345,0,1,1471,1868.5)" font-family="'Liberation Sans',sans-serif" fill="#e4e4ee" font-size="9.6" text-anchor="middle" textLength="40" lengthAdjust="spacingAndGlyphs">Positioning</text>
<g transform="matrix(1,-0.345,0,1,1470.6,1940)" fill="none" stroke="#e2e2ec" stroke-width="1.5" stroke-linecap="round">
<path d="M -10.5,-4.5 A 14.5 14.5 0 0 1 10.5,-4.5"/><path d="M -6.8,-1 A 9.5 9.5 0 0 1 6.8,-1"/><path d="M -3.2,2.4 A 4.6 4.6 0 0 1 3.2,2.4"/>
</g>
<text transform="matrix(1,-0.345,0,1,1470.6,1966.5)" font-family="'Liberation Sans',sans-serif" fill="#e4e4ee" font-size="9.6" text-anchor="middle" textLength="20" lengthAdjust="spacingAndGlyphs">Wi-Fi</text>
<g transform="matrix(1,-0.345,0,1,1470.6,2168.5)">
<circle cx="0" cy="0" r="27" fill="#3c3e5c" stroke="#393b58" stroke-width="1.5"/>
<path d="M -21,15 A 26 26 0 0 0 21,15" fill="none" stroke="#303250" stroke-width="3.5" opacity="0.9"/>
<path d="M -16,-21.5 A 27 27 0 0 1 16,-21.5" fill="none" stroke="#34364f" stroke-width="1.5" opacity="0.9"/>
<path d="M 0,-10.5 L 8.5,-5.5 L 8.5,5.5 L 0,10.5 L -8.5,5.5 L -8.5,-5.5 Z" fill="none" stroke="#e6e6f0" stroke-width="1.5" stroke-linejoin="round"/>
<path d="M -3,-4 A 5 5 0 0 0 -3,4 M -3,4 l -2,-2.4 M 3,4 A 5 5 0 0 0 3,-4 M 3,-4 l 2,2.4" fill="none" stroke="#e6e6f0" stroke-width="1.6" stroke-linecap="round"/>
</g>
<text transform="matrix(1,-0.345,0,1,1424,2245)" font-family="'Liberation Sans',sans-serif" fill="#e4e4ee" font-size="17" textLength="92" lengthAdjust="spacingAndGlyphs" fill-opacity="0.9">wi-fi booster+</text>
</g>
<line x1="2916.3" y1="1738.2" x2="3112.6" y2="1688.8" stroke="#3c8dcf" stroke-width="3.4"/>
<circle cx="2916.3" cy="1738.2" r="8.4" fill="#3c8dcf"/>
<circle cx="3112.6" cy="1688.8" r="16" fill="#3c8dcf"/>
<g fill="none" stroke="#1d1d1d" stroke-width="6.2" stroke-linecap="round"><path d="M 3259.34,1365.04 A 53.3 53.3 0 0 1 3228.90,1263.90"/><path d="M 3274.78,1264.70 A 53.3 53.3 0 0 1 3282.70,1269.55"/><path d="M 3294.66,1281.83 A 53.3 53.3 0 0 1 3302.48,1298.60"/><path d="M 3304.23,1315.19 A 53.3 53.3 0 0 1 3300.06,1333.23"/><path d="M 3291.23,1347.37 A 53.3 53.3 0 0 1 3276.43,1359.24"/><line x1="3251" y1="1257.5" x2="3251" y2="1311.9"/></g>
<g fill="none" stroke="#1d1d1d" stroke-width="6.2" stroke-linecap="round"><path d="M 3253.54,1933.44 A 53.3 53.3 0 0 1 3223.10,1832.30"/><path d="M 3268.98,1833.10 A 53.3 53.3 0 0 1 3276.90,1837.95"/><path d="M 3288.86,1850.23 A 53.3 53.3 0 0 1 3296.68,1867.00"/><path d="M 3298.43,1883.59 A 53.3 53.3 0 0 1 3294.26,1901.63"/><path d="M 3285.43,1915.77 A 53.3 53.3 0 0 1 3270.63,1927.64"/><line x1="3245.2" y1="1826.2" x2="3245.2" y2="1880.3"/></g>
<circle cx="3251" cy="1421.3" r="19.4" fill="#f09405"/>
<circle cx="3245.1" cy="1995.2" r="19.4" fill="#ffffff" stroke="#1d1d1d" stroke-width="3.6"/>
<text x="3164.3" y="1513" font-family="'Liberation Sans',sans-serif" fill="#1d1d1d" font-size="59.4" stroke="#1d1d1d" stroke-width="1.1" textLength="173" lengthAdjust="spacingAndGlyphs">Power</text>
<text x="3164.3" y="2085.6" font-family="'Liberation Sans',sans-serif" fill="#1d1d1d" font-size="59.4" stroke="#1d1d1d" stroke-width="1.1" textLength="173" lengthAdjust="spacingAndGlyphs">Power</text>
<text x="3055.3" y="1579.7" font-family="'Liberation Sans',sans-serif" fill="#1d1d1d" font-size="60" font-style="italic" stroke="#ffffff" stroke-width="1.7" textLength="391.5" lengthAdjust="spacingAndGlyphs">oranje - orange</text>
<text x="3118.3" y="2151.6" font-family="'Liberation Sans',sans-serif" fill="#1d1d1d" font-size="60" font-style="italic" stroke="#ffffff" stroke-width="1.7" textLength="263.5" lengthAdjust="spacingAndGlyphs">wit - blanc</text>
<rect x="3184.3" y="1637.5" width="133.5" height="116" fill="#5a2583"/>
<text x="3223.3" y="1687.6" font-family="'Liberation Sans',sans-serif" fill="#ffffff" stroke="#ffffff" stroke-width="1.5" font-weight="bold" font-size="43" textLength="51" lengthAdjust="spacingAndGlyphs">of</text>
<text x="3219" y="1734.6" font-family="'Liberation Sans',sans-serif" fill="#ffffff" stroke="#ffffff" stroke-width="1.5" font-weight="bold" font-size="43" textLength="63.4" lengthAdjust="spacingAndGlyphs">ou</text>
</svg>
</body></html>
